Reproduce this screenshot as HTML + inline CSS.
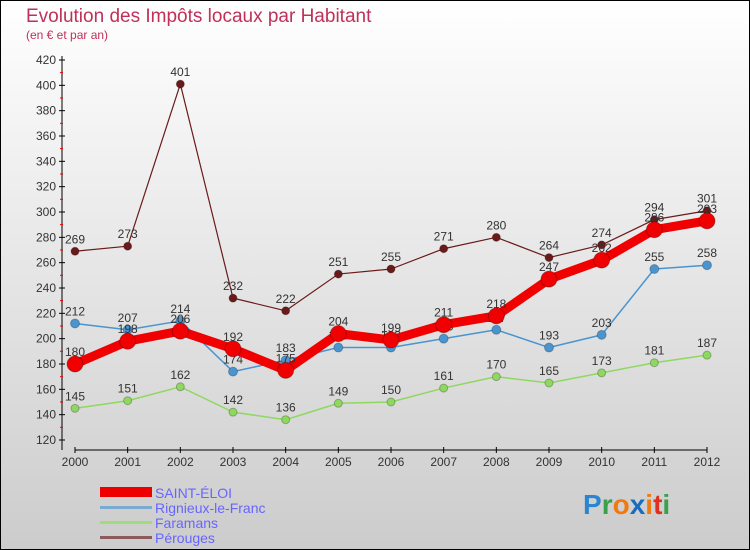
<!DOCTYPE html>
<html><head><meta charset="utf-8"><style>
body{margin:0;width:750px;height:550px;overflow:hidden;font-family:"Liberation Sans",sans-serif}
#c{position:absolute;left:0;top:0;width:748px;height:548px;border:1px solid #000;background:linear-gradient(#fff,#ccc)}
</style></head><body>
<div id="c">
<svg id="s" width="750" height="550" style="position:absolute;left:-1px;top:-1px">
<text x="26" y="22" font-size="19" fill="#c0305a">Evolution des Impôts locaux par Habitant</text>
<text x="26" y="39" font-size="12" fill="#c0305a">(en € et par an)</text>
<g id="axes"></g><g id="series"></g>
<g font-size="14" fill="#6666ff">
<rect x="100" y="487" width="52" height="10" fill="#e00"/>
<text x="155" y="498">SAINT-ÉLOI</text>
<rect x="100" y="506" width="52" height="3" fill="#7aaad0"/>
<text x="155" y="513">Rignieux-le-Franc</text>
<rect x="100" y="521" width="52" height="3" fill="#9fdc7a"/>
<text x="155" y="528">Faramans</text>
<rect x="100" y="536" width="52" height="3" fill="#8c5a5a"/>
<text x="155" y="543">Pérouges</text>
</g>
<g font-size="28" font-weight="bold">
<text x="583" y="514"><tspan fill="#2a86d0">P</tspan><tspan fill="#3aa04a">r</tspan><tspan fill="#f07a10">o</tspan><tspan fill="#1a6cc0">x</tspan><tspan fill="#f07a10">i</tspan><tspan fill="#e03020">t</tspan><tspan fill="#3aa04a">i</tspan></text>
</g>
</svg></div>
<script>
const years=["2000","2001","2002","2003","2004","2005","2006","2007","2008","2009","2010","2011","2012"];
const yTicks=[120,140,160,180,200,220,240,260,280,300,320,340,360,380,400,420];
const saintEloi=[180,198,206,192,175,204,199,211,218,247,262,286,293];
const rignieux=[212,207,214,174,183,193,193,200,207,193,203,255,258];
const faramans=[145,151,162,142,136,149,150,161,170,165,173,181,187];
const perouges=[269,273,401,232,222,251,255,271,280,264,274,294,301];
const NS="http://www.w3.org/2000/svg";
const xs=i=>75+i*(707-75)/(years.length-1);
const ys=v=>440-(v-120)*(380/300);
function mk(t,a,p){const e=document.createElementNS(NS,t);for(const k in a)e.setAttribute(k,a[k]);p.appendChild(e);return e;}
const ax=document.getElementById('axes');
let yl=mk('line',{x1:62,y1:56,x2:62,y2:450,stroke:'#000'},ax);


let xl=mk('line',{x1:75,y1:450,x2:707,y2:450,stroke:'#000'},ax);


yTicks.forEach(v=>{const y=ys(v);
mk('line',{x1:59,y1:y,x2:65,y2:y,stroke:'#000'},ax);
if(v<420)mk('line',{x1:60,y1:y-12.7,x2:63,y2:y-12.7,stroke:'#e00'},ax);
const t=mk('text',{x:56,y:y+4,'text-anchor':'end','font-size':12,fill:'#333'},ax);t.textContent=v;

});
years.forEach((yr,i)=>{const x=xs(i);
mk('line',{x1:x,y1:447,x2:x,y2:453,stroke:'#000'},ax);
const t=mk('text',{x:x,y:466,'text-anchor':'middle','font-size':12,fill:'#333'},ax);t.textContent=yr;

});
const sg=document.getElementById('series');
function series(data,color,w,r,name){
const g=mk('g',{},sg);


mk('polyline',{points:data.map((v,i)=>xs(i)+','+ys(v)).join(' '),fill:'none',stroke:color,'stroke-width':w,'stroke-linejoin':'round'},g);
data.forEach((v,i)=>{const c=mk('circle',{cx:xs(i),cy:ys(v),r:r,fill:color,stroke:'rgba(0,0,0,0.25)'},g);


const t=mk('text',{x:xs(i),y:ys(v)-8,'text-anchor':'middle','font-size':12,fill:'#333'},g);t.textContent=v;

});}
series(faramans,'#8fd860',1.5,4,'faramans-series');
series(perouges,'#6b1a1a',1.2,4,'perouges-series');
series(rignieux,'#4a94d0',1.5,4.5,'rignieux-series');
series(saintEloi,'#f00000',9,8,'saint-eloi-series');
</script></body></html>
